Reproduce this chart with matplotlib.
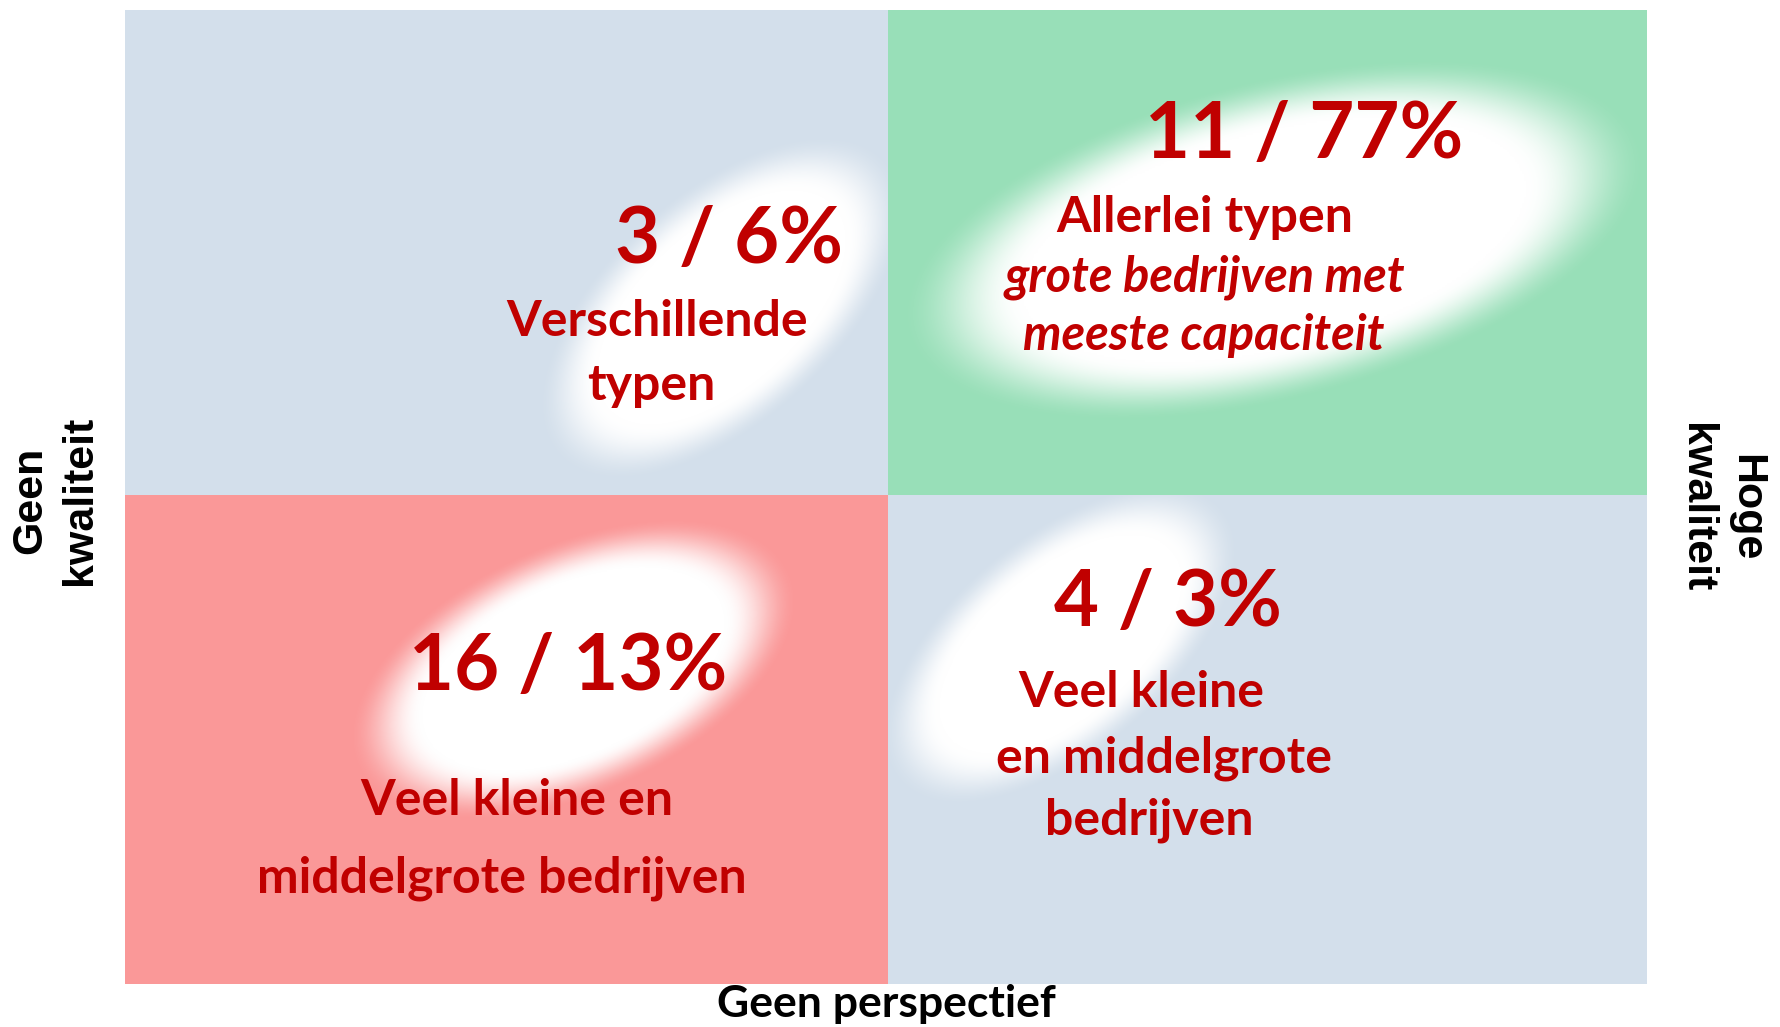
import numpy as np
import matplotlib
matplotlib.use("Agg")
from matplotlib import pyplot as plt
from matplotlib.patches import Rectangle

# quadrant grid (pixel space of the original slide)
x_edges = [125, 888, 1647]
y_edges = [10, 495, 984]
quad_colors = [["#d3dfeb", "#98dfb8"],
               ["#fa9898", "#d3dfeb"]]

# numbers per quadrant: count / share of capacity
counts = [3, 11, 16, 4]
shares = [6, 77, 13, 3]
num_pos = [(729, 241), (1304, 136), (568, 668), (1168, 604)]

# descriptions (text, x, y, italic)
labels = [
    ("Verschillende", 657, 321, False),
    ("typen", 651, 386, False),
    ("Allerlei typen", 1205, 217, False),
    ("grote bedrijven met", 1205, 277, True),
    ("meeste capaciteit", 1204, 336, True),
    ("Veel kleine en", 517, 801, False),
    ("middelgrote bedrijven", 502, 878, False),
    ("Veel kleine", 1141, 693, False),
    ("en middelgrote", 1164, 758, False),
    ("bedrijven", 1149, 820, False),
]

# white glow ellipses: cx, cy, half-width, half-height, angle (deg), quadrant
glows = [(722, 308, 192, 100, -42, (0, 0)),
         (1274, 240, 328, 138, -14, (0, 1)),
         (574, 670, 205, 108, -24, (1, 0)),
         (1060, 645, 184, 94, -40, (1, 1))]

red = "#c00000"
calib = ["Liberation Sans Narrow", "Lato", "DejaVu Sans"]

W, H = 1781, 1027
fig = plt.figure(figsize=(W / 100, H / 100), dpi=100)
ax = fig.add_axes([0, 0, 1, 1])
ax.set_xlim(0, W)
ax.set_ylim(H, 0)
ax.axis("off")

quads = {}
for i in range(2):
    for j in range(2):
        r = Rectangle((x_edges[j], y_edges[i]),
                      x_edges[j + 1] - x_edges[j],
                      y_edges[i + 1] - y_edges[i],
                      facecolor=quad_colors[i][j], edgecolor="none", zorder=1)
        ax.add_patch(r)
        quads[(i, j)] = r

# soft white blobs, each kept inside its own quadrant
for cx, cy, a, b, ang, q in glows:
    r = max(a, b) * 1.3
    n = 500
    xs = np.linspace(cx - r, cx + r, n)
    ys = np.linspace(cy - r, cy + r, n)
    X, Y = np.meshgrid(xs, ys)
    t = np.deg2rad(ang)
    u = (X - cx) * np.cos(t) + (Y - cy) * np.sin(t)
    v = -(X - cx) * np.sin(t) + (Y - cy) * np.cos(t)
    d = np.sqrt((u / a) ** 2 + (v / b) ** 2)
    alpha = np.clip((1.17 - d) / 0.38, 0, 1)
    alpha = alpha * alpha * (3 - 2 * alpha)
    img = np.ones((n, n, 4))
    img[..., 3] = alpha
    im = ax.imshow(img, extent=(cx - r, cx + r, cy + r, cy - r), zorder=2,
                   interpolation="bilinear")
    im.set_clip_path(quads[q])

ax.set_xlim(0, W)
ax.set_ylim(H, 0)

for c, s, (x, y) in zip(counts, shares, num_pos):
    ax.text(x, y, f"{c} / {s}%", color=red, fontsize=56, fontweight="bold",
            family=calib, ha="center", va="center", zorder=3)

for txt, x, y, it in labels:
    ax.text(x, y, txt, color=red, fontsize=35 if it else 36, fontweight="bold",
            style="italic" if it else "normal", family=calib,
            ha="center", va="center", zorder=3)

ax.text(886, 1004, "Geen perspectief", fontsize=32, fontweight="bold",
        family=calib, ha="center", va="center", color="black")
ax.text(55, 500, "Geen\nkwaliteit", fontsize=31, fontweight="bold",
        family=["Liberation Sans", "DejaVu Sans"], rotation=90,
        ha="center", va="center", multialignment="center", linespacing=1.3)
ax.text(1721, 508, "Hoge\nkwaliteit", fontsize=31, fontweight="bold",
        family=["Liberation Sans", "DejaVu Sans"], rotation=270,
        ha="center", va="center", multialignment="center", linespacing=1.3)

fig.savefig("out.png", dpi=100)
